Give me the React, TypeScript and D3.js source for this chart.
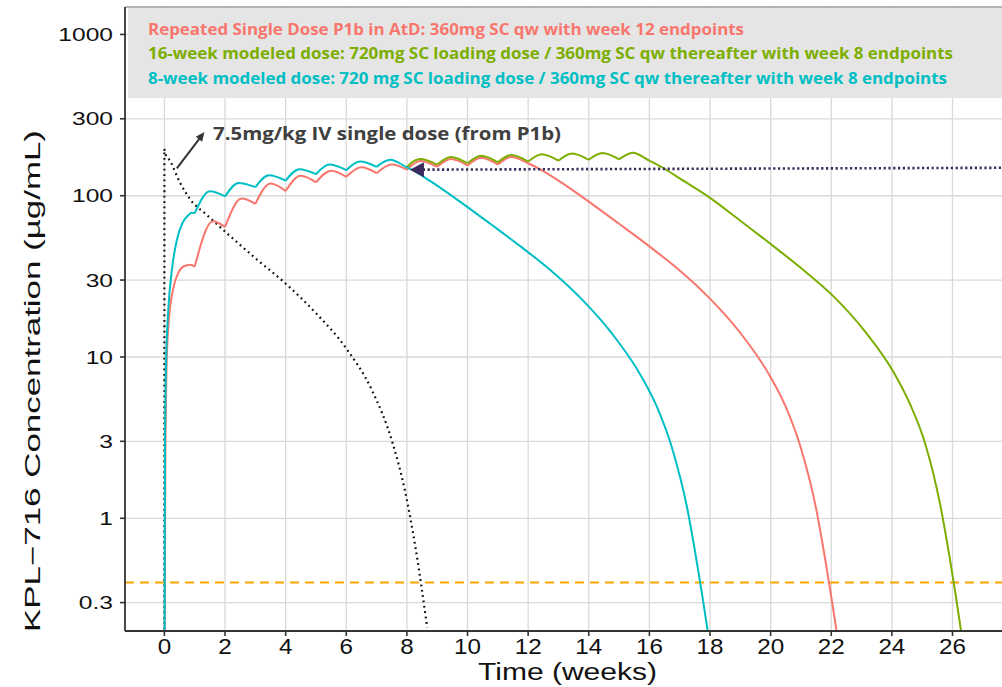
import React from 'react';
import * as d3 from 'd3';

// concentrations in µg/mL, time in weeks
const ivWeeks = [0, 0, 0.02, 0.2, 0.5, 0.85, 1.4, 2, 3, 4, 5, 6, 6.85, 7.53, 7.93, 8.3, 8.67];
const ivConc = [0.15, 195, 185, 163, 122, 95, 76, 60, 41, 28.5, 18.7, 11.3, 6.2, 2.92, 1.5, 0.63, 0.21];

const redWeeks = [
  0, 0.03, 0.08, 0.15, 0.3, 0.45, 0.63, 0.85, 1,
  1.6, 2, 2.55, 3, 3.5, 4, 4.5, 5, 5.5, 6, 6.5, 7, 7.5, 8,
  8.45, 9, 9.45, 10, 10.45, 11, 11.45,
  12, 12.5, 13, 14, 15, 16, 17, 18, 19, 20, 20.5, 21, 21.5, 21.8, 22, 22.2,
];
const redConc = [
  0.05, 2, 10, 17, 27, 33, 36.4, 37.3, 36.4,
  69.5, 64, 96, 89, 119, 107, 133, 121, 143, 131, 150, 138, 156, 145,
  164, 151, 169, 154, 172, 156, 174,
  159, 142, 124, 92, 67, 48.5, 34.4, 23, 14.1, 7.5, 4.9, 2.72, 1.15, 0.556, 0.327, 0.186,
];
const redDoseWeeks = [1, 2, 3, 4, 5, 6, 7, 8, 9, 10, 11];

const greenWeeks = [
  8, 8.15, 8.45, 9, 9.45, 10, 10.45, 11, 11.45, 12, 12.45, 13, 13.45, 14, 14.45, 15, 15.45,
  16, 16.5, 17, 18, 19, 20.1, 21.1, 22.1, 23.1, 24.1, 24.6, 25.1, 25.6, 25.9, 26.1, 26.3,
];
const greenConc = [
  150, 160, 169, 156, 174, 159, 177, 161, 179, 163, 181, 165, 183, 167, 184, 168, 185,
  165, 147, 128, 97, 70, 48.5, 34.4, 23.5, 14.5, 7.8, 5.1, 2.9, 1.2, 0.58, 0.34, 0.19,
];
const greenDoseWeeks = [9, 10, 11, 12, 13, 14, 15];

const tealWeeks = [
  0, 0.02, 0.06, 0.13, 0.25, 0.41, 0.6, 0.8, 0.9, 1,
  1.5, 2, 2.45, 3, 3.45, 4, 4.45, 5, 5.45, 6, 6.45, 7, 7.45,
  8, 8.25, 8.75, 9.75, 10.75, 11.75, 12.75, 13.75, 14.75, 15.75, 16.25, 16.75, 17.25, 17.55, 17.75, 17.95,
];
const tealConc = [
  0.05, 3, 10, 20, 35, 53, 68, 76, 78.3, 78,
  106.5, 99, 120, 113, 134, 124, 146, 136, 156, 144, 163, 151, 167,
  150, 142, 124, 92, 67, 48.5, 34.4, 23, 14.1, 7.5, 4.9, 2.72, 1.15, 0.556, 0.327, 0.186,
];
const tealDoseWeeks = [1, 2, 3, 4, 5, 6, 7];

const lloq = 0.4;
const refArrowWeeks = [27.6, 8.1];
const refArrowConc = [149, 145];
const ivArrowWeeks = [0.41, 1.32];
const ivArrowConc = [148, 248];

const yTicks = [0.3, 1, 3, 10, 30, 100, 300, 1000];
const xTicks = [0, 2, 4, 6, 8, 10, 12, 14, 16, 18, 20, 22, 24, 26];

const legendLines = [
  'Repeated Single Dose P1b in AtD: 360mg SC qw with week 12 endpoints',
  '16-week modeled dose: 720mg SC loading dose / 360mg SC qw thereafter with week 8 endpoints',
  '8-week modeled dose: 720 mg SC loading dose / 360mg SC qw thereafter with week 8 endpoints',
];
const legendColors = ['#F8766D', '#7CAE00', '#00BFC4'];
const legendWidths = [596, 805, 799];

const left = 125, right = 1002, top = 7, bottom = 631;
const x = d3.scaleLinear().domain([-1.3, 27.6]).range([left, 1001]);
const y = d3.scaleLog().domain([0.2, 1480]).range([bottom, top]);

const mono = d3.line<[number, number]>().x(d => x(d[0])).y(d => y(d[1])).curve(d3.curveMonotoneX);
const straight = d3.line<[number, number]>().x(d => x(d[0])).y(d => y(d[1]));

// split at each dose so the troughs stay sharp
function dosedPath(weeks: number[], conc: number[], doses: number[]) {
  const pts = weeks.map((w, i) => [w, conc[i]] as [number, number]);
  let out = '';
  let seg: [number, number][] = [];
  pts.forEach(p => {
    seg.push(p);
    if (doses.includes(p[0]) && seg.length > 1) {
      out += mono(seg);
      seg = [p];
    }
  });
  if (seg.length > 1) out += mono(seg);
  return out;
}

const sans = '"Liberation Sans", Arial, sans-serif';
const bold = '"Open Sans", "DejaVu Sans", sans-serif';

export default function App() {
  const ivPts = ivWeeks.map((w, i) => [w, ivConc[i]] as [number, number]);
  const ivPath = straight(ivPts.slice(0, 2)) + mono(ivPts.slice(1));

  const ax0 = x(refArrowWeeks[0]), ay0 = y(refArrowConc[0]);
  const ax1 = x(refArrowWeeks[1]), ay1 = y(refArrowConc[1]);
  const ang = Math.atan2(ay1 - ay0, ax1 - ax0);
  const tri = (tx: number, ty: number, a: number, len: number, half: number) => {
    const bx = tx - len * Math.cos(a), by = ty - len * Math.sin(a);
    return `M${tx},${ty}L${bx - half * Math.sin(a)},${by + half * Math.cos(a)}L${bx + half * Math.sin(a)},${by - half * Math.cos(a)}Z`;
  };

  const bx0 = x(ivArrowWeeks[0]), by0 = y(ivArrowConc[0]);
  const bx1 = x(ivArrowWeeks[1]), by1 = y(ivArrowConc[1]);
  const bAng = Math.atan2(by1 - by0, bx1 - bx0);

  return (
    <svg width={1002} height={687} style={{ position: 'absolute', left: 0, top: 0, background: '#fff' }}>
      <defs>
        <clipPath id="panel">
          <rect x={left} y={top} width={right - left} height={bottom - top} />
        </clipPath>
      </defs>

      {/* grid */}
      <g stroke="#d9d9d9" strokeWidth={1.3}>
        {xTicks.map(t => <line key={t} x1={x(t)} x2={x(t)} y1={top} y2={bottom} />)}
        {yTicks.map(v => <line key={v} x1={left} x2={right} y1={y(v)} y2={y(v)} />)}
      </g>

      {/* legend box */}
      <rect x={128} y={8} width={874} height={90} fill="#e5e5e5" />
      {legendLines.map((s, i) => (
        <text key={i} x={148} y={35 + i * 24.3} fill={legendColors[i]} fontFamily={bold}
          fontWeight={700} fontSize={16.5} textLength={legendWidths[i]} lengthAdjust="spacingAndGlyphs">{s}</text>
      ))}

      <g clipPath="url(#panel)" fill="none" strokeLinejoin="round">
        <line x1={left} x2={right} y1={y(lloq)} y2={y(lloq)} stroke="#FFA500" strokeWidth={2} strokeDasharray="9,6" />
        <path d={ivPath} stroke="#111" strokeWidth={2.2} strokeDasharray="1.8,3.6" />
        <path d={dosedPath(redWeeks, redConc, redDoseWeeks)} stroke="#F8766D" strokeWidth={2} />
        <path d={dosedPath(greenWeeks, greenConc, greenDoseWeeks)} stroke="#7CAE00" strokeWidth={2} />
        <path d={dosedPath(tealWeeks, tealConc, tealDoseWeeks)} stroke="#00BFC4" strokeWidth={2} />
        <line x1={ax0} y1={ay0} x2={ax1 - 12 * Math.cos(ang)} y2={ay1 - 12 * Math.sin(ang)}
          stroke="#3C2A5C" strokeWidth={2.6} strokeDasharray="2.2,2.6" />
        <path d={tri(ax1, ay1, ang, 14, 7.5)} fill="#3C2A5C" />
        <line x1={bx0} y1={by0} x2={bx1 - 5 * Math.cos(bAng)} y2={by1 - 5 * Math.sin(bAng)} stroke="#333" strokeWidth={2} />
        <path d={tri(bx1, by1, bAng, 9, 4)} fill="#333" />
      </g>

      <text x={213} y={139.5} fill="#404040" fontFamily={bold} fontWeight={700} fontSize={18.5}
        textLength={348} lengthAdjust="spacingAndGlyphs">7.5mg/kg IV single dose (from P1b)</text>

      {/* axes */}
      <line x1={left} x2={right} y1={top} y2={top} stroke="#666" strokeWidth={1} />
      <line x1={left} x2={left} y1={top} y2={bottom} stroke="#333" strokeWidth={1.8} />
      <line x1={left} x2={right} y1={bottom} y2={bottom} stroke="#333" strokeWidth={1.8} />
      <g stroke="#333" strokeWidth={1.6}>
        {yTicks.map(v => <line key={v} x1={left - 5} x2={left} y1={y(v)} y2={y(v)} />)}
        {xTicks.map(t => <line key={t} x1={x(t)} x2={x(t)} y1={bottom} y2={bottom + 5} />)}
      </g>
      <g fontFamily={sans} fontSize={18.5} fill="#111">
        {yTicks.map(v => (
          <text key={v} transform={`translate(113,${y(v) + 6.7}) scale(1.33,1)`} textAnchor="end">{String(v)}</text>
        ))}
      </g>
      <g fontFamily={sans} fontSize={22} fill="#111">
        {xTicks.map(t => (
          <text key={t} transform={`translate(${x(t)},654) scale(1.1,1)`} textAnchor="middle">{String(t)}</text>
        ))}
      </g>
      <text x={567.5} y={680} textAnchor="middle" fontFamily={sans} fontSize={23.5} fill="#111"
        textLength={179} lengthAdjust="spacingAndGlyphs">Time (weeks)</text>
      <text transform="translate(40,381) rotate(-90)" textAnchor="middle" fontFamily={sans} fontSize={22.5} fill="#111"
        textLength={502} lengthAdjust="spacingAndGlyphs">KPL−716 Concentration (µg/mL)</text>
    </svg>
  );
}
